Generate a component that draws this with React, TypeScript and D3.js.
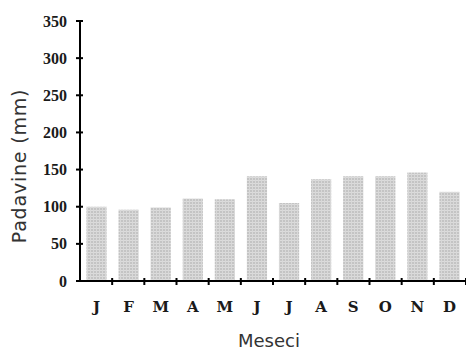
import React from "react";
import * as d3 from "d3";

const months = ["J", "F", "M", "A", "M", "J", "J", "A", "S", "O", "N", "D"];
const precipitation = [100, 96, 99, 111, 110, 141, 105, 137, 141, 141, 146, 120];
const yTicks = [0, 50, 100, 150, 200, 250, 300, 350];

const W = 466;
const H = 352;
const left = 80;
const right = 466;
const top = 21;
const bottom = 281;

export default function App() {
  const x = d3
    .scaleBand<number>()
    .domain(d3.range(months.length))
    .range([left, right])
    .paddingInner(0.37)
    .paddingOuter(0.2);
  const y = d3.scaleLinear().domain([0, 350]).range([bottom, top]);
  const step = (right - left) / months.length;
  const sepTicks = d3.range(1, months.length + 1).map((i) => left + i * step);

  return (
    <svg
      width={W}
      height={H}
      style={{ position: "absolute", left: 0, top: 0, background: "#fff" }}
    >
      <defs>
        <pattern id="dots" width="3" height="3" patternUnits="userSpaceOnUse">
          <rect width="3" height="3" fill="#c4c4c4" />
          <rect x="0" y="0" width="3" height="1" fill="#dcdcdc" />
          <rect x="0" y="0" width="1" height="3" fill="#d8d8d8" />
        </pattern>
      </defs>
      {precipitation.map((v, i) => (
        <rect
          key={i}
          x={x(i)}
          y={y(v)}
          width={x.bandwidth()}
          height={bottom - y(v)}
          fill="url(#dots)"
        />
      ))}
      {/* y axis */}
      <line x1={left} x2={left} y1={top - 1} y2={bottom + 1} stroke="#000" strokeWidth={2} />
      {yTicks.map((t) => (
        <g key={t}>
          <line x1={left - 4} x2={left + 3} y1={y(t)} y2={y(t)} stroke="#000" strokeWidth={2} />
          <text
            x={67}
            y={y(t)}
            dy="0.35em"
            textAnchor="end"
            fontFamily="Liberation Serif"
            fontWeight="bold"
            fontSize={16}
            fill="#1a1a1a"
          >
            {t}
          </text>
        </g>
      ))}
      {/* x axis */}
      <line x1={left - 4} x2={right} y1={bottom} y2={bottom} stroke="#000" strokeWidth={2} />
      {sepTicks.map((t, i) => (
        <line key={i} x1={t} x2={t} y1={bottom - 3} y2={bottom + 4} stroke="#000" strokeWidth={2} />
      ))}
      {months.map((m, i) => (
        <text
          key={i}
          x={x(i)! + x.bandwidth() / 2}
          y={307}
          dy="0.35em"
          textAnchor="middle"
          fontFamily="DejaVu Serif"
          fontWeight="bold"
          fontSize={15}
          fill="#1a1a1a"
        >
          {m}
        </text>
      ))}
      <text
        x={269}
        y={341}
        dy="0.35em"
        textAnchor="middle"
        fontFamily="DejaVu Sans"
        fontSize={18}
        fill="#333"
      >
        Meseci
      </text>
      <text
        transform={`translate(19,166) rotate(-90)`}
        dy="0.35em"
        textAnchor="middle"
        fontFamily="DejaVu Sans"
        fontSize={19}
        letterSpacing={0.8}
        fill="#333"
      >
        Padavine (mm)
      </text>
    </svg>
  );
}
